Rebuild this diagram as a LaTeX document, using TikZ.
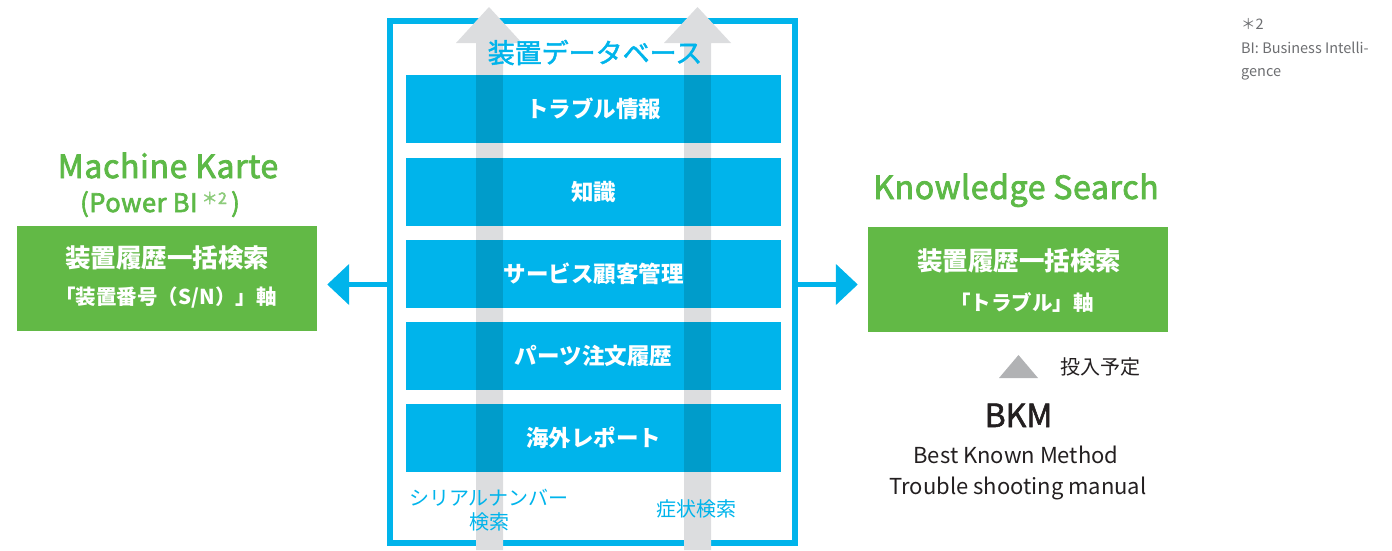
\documentclass[tikz,border=0pt]{standalone}
\usepackage{fontspec}
\setmainfont{Noto Sans CJK JP}
\newfontfamily\semifont[FakeBold=1.8]{Noto Sans CJK JP}
\newfontfamily\titlefont[FakeBold=2.5,LetterSpace=2]{Noto Sans CJK JP}
\usetikzlibrary{arrows.meta}
\definecolor{dbblue}{HTML}{00B4EB}
\definecolor{dkblue}{HTML}{009CCA}
\definecolor{kgreen}{HTML}{62B946}
\definecolor{tgreen}{HTML}{5DB947}
\definecolor{ltgreen}{HTML}{8CCB7A}
\definecolor{arrgray}{HTML}{DCDDDF}
\definecolor{trigray}{HTML}{B1B2B4}
\definecolor{txtdark}{HTML}{231F20}
\definecolor{notegray}{HTML}{6D6E71}
\newcommand{\fsz}[1]{\fontsize{#1}{#1}\selectfont}
\begin{document}
\begin{tikzpicture}[x=1pt,y=-1pt,
  rowbox/.style={fill=dbblue, minimum width=375pt, minimum height=68pt, inner sep=0pt},
  rowtext/.style={text=white, font=\fsz{22.5}\bfseries, inner sep=0pt},
  boxtext/.style={text=white, inner sep=0pt, align=center},
  gbox/.style={fill=kgreen, minimum width=300pt, minimum height=105pt, inner sep=0pt},
  bluelabel/.style={text=dbblue, font=\fsz{20}, align=center, inner sep=0pt},
  title/.style={text=tgreen, font=\titlefont\fsz{32}, inner sep=0pt, anchor=base},
  conn/.style={draw=dbblue, line width=5pt, -{Triangle[length=22pt,width=40pt]}},
  darktext/.style={text=txtdark, inner sep=0pt, anchor=base},
  notetext/.style={text=notegray, font=\fsz{14.5}, inner sep=0pt, anchor=base west}
]
\useasboundingbox (0,0) rectangle (1392,550);

% database frame
\node[draw=dbblue, line width=6pt, minimum width=405pt, minimum height=522pt, inner sep=0pt] (db) at (592.5,281.5) {};

% gray arrows
\fill[arrgray] (476,550) -- (476,43) -- (456,43) -- (489,7) -- (522,43) -- (503,43) -- (503,550) -- cycle;
\fill[arrgray] (684,550) -- (684,43) -- (664,43) -- (697.5,7) -- (731,43) -- (711,43) -- (711,550) -- cycle;

% rows
\node[rowbox] (r1) at (593.5,109) {};
\node[rowbox] (r2) at (593.5,192) {};
\node[rowbox] (r3) at (593.5,274) {};
\node[rowbox] (r4) at (593.5,356) {};
\node[rowbox] (r5) at (593.5,438) {};
\foreach \r in {r1,r2,r3,r4,r5}{
  \fill[dkblue] (\r.north -| 476,0) rectangle (\r.south -| 503,0);
  \fill[dkblue] (\r.north -| 684,0) rectangle (\r.south -| 711,0);
}
\node[rowtext] (t1) at (r1.center) {トラブル情報};
\node[rowtext] (t2) at (r2.center) {知識};
\node[rowtext] (t3) at (r3.center) {サービス顧客管理};
\node[rowtext] (t4) at (r4.center) {パーツ注文履歴};
\node[rowtext] (t5) at (r5.center) {海外レポート};

\node[text=dbblue, font=\semifont\fsz{27}, inner sep=0pt] (dbtitle) at (595,52.5) {装置データベース};
\node[bluelabel] (serial) at (489,510) {シリアルナンバー\\[4pt]検索};
\node[bluelabel] (symptom) at (696,509) {症状検索};

% left side
\node[title] (mk) at (168,178) {Machine Karte};
\node[text=tgreen, font=\titlefont\fsz{25.5}, inner sep=0pt, anchor=base] (pbi) at (160,212) {(Power BI\,\raisebox{8pt}{\textcolor{ltgreen}{\fsz{16}＊2}}\,)};
\node[gbox] (lbox) at (167,278.5) {};
\node[boxtext, font=\fsz{25.5}\bfseries] (l1) at (167,257.5) {装置履歴一括検索};
\node[boxtext, font=\fsz{20.5}\bfseries] (l2) at (166,297.5) {「装置番号（S/N）」軸};

% right side
\node[title] (ks) at (1016,199) {Knowledge Search};
\node[gbox] (rbox) at (1018,279) {};
\node[boxtext, font=\fsz{25.5}\bfseries] (r1t) at (1019,261) {装置履歴一括検索};
\node[boxtext, font=\fsz{20.5}\bfseries] (r2t) at (1022,302) {「トラブル」軸};

% connectors
\coordinate (ay) at (0,284.5);
\draw[conn, shorten >=10pt] (db.west |- ay) -- (lbox.east |- ay);
\draw[conn, shorten >=10pt] (db.east |- ay) -- (rbox.west |- ay);

% BKM
\fill[trigray] (999,378) -- (1018.5,355) -- (1038,378) -- cycle;
\node[text=txtdark, font=\fsz{20}, inner sep=0pt] (plan) at (1100,366.5) {投入予定};
\node[darktext, font=\semifont\fsz{32}] (bkm) at (1018.5,427) {BKM};
\node[darktext, font=\fsz{22}] (bkm1) at (1016,463) {Best Known Method};
\node[darktext, font=\fsz{22}] (bkm2) at (1018,494) {Trouble shooting manual};

% note
\node[notetext] (n1) at (1241,29) {＊2};
\node[notetext] (n2) at (1241,53) {BI: Business Intelli-};
\node[notetext] (n3) at (1241,76) {gence};
\end{tikzpicture}
\end{document}
